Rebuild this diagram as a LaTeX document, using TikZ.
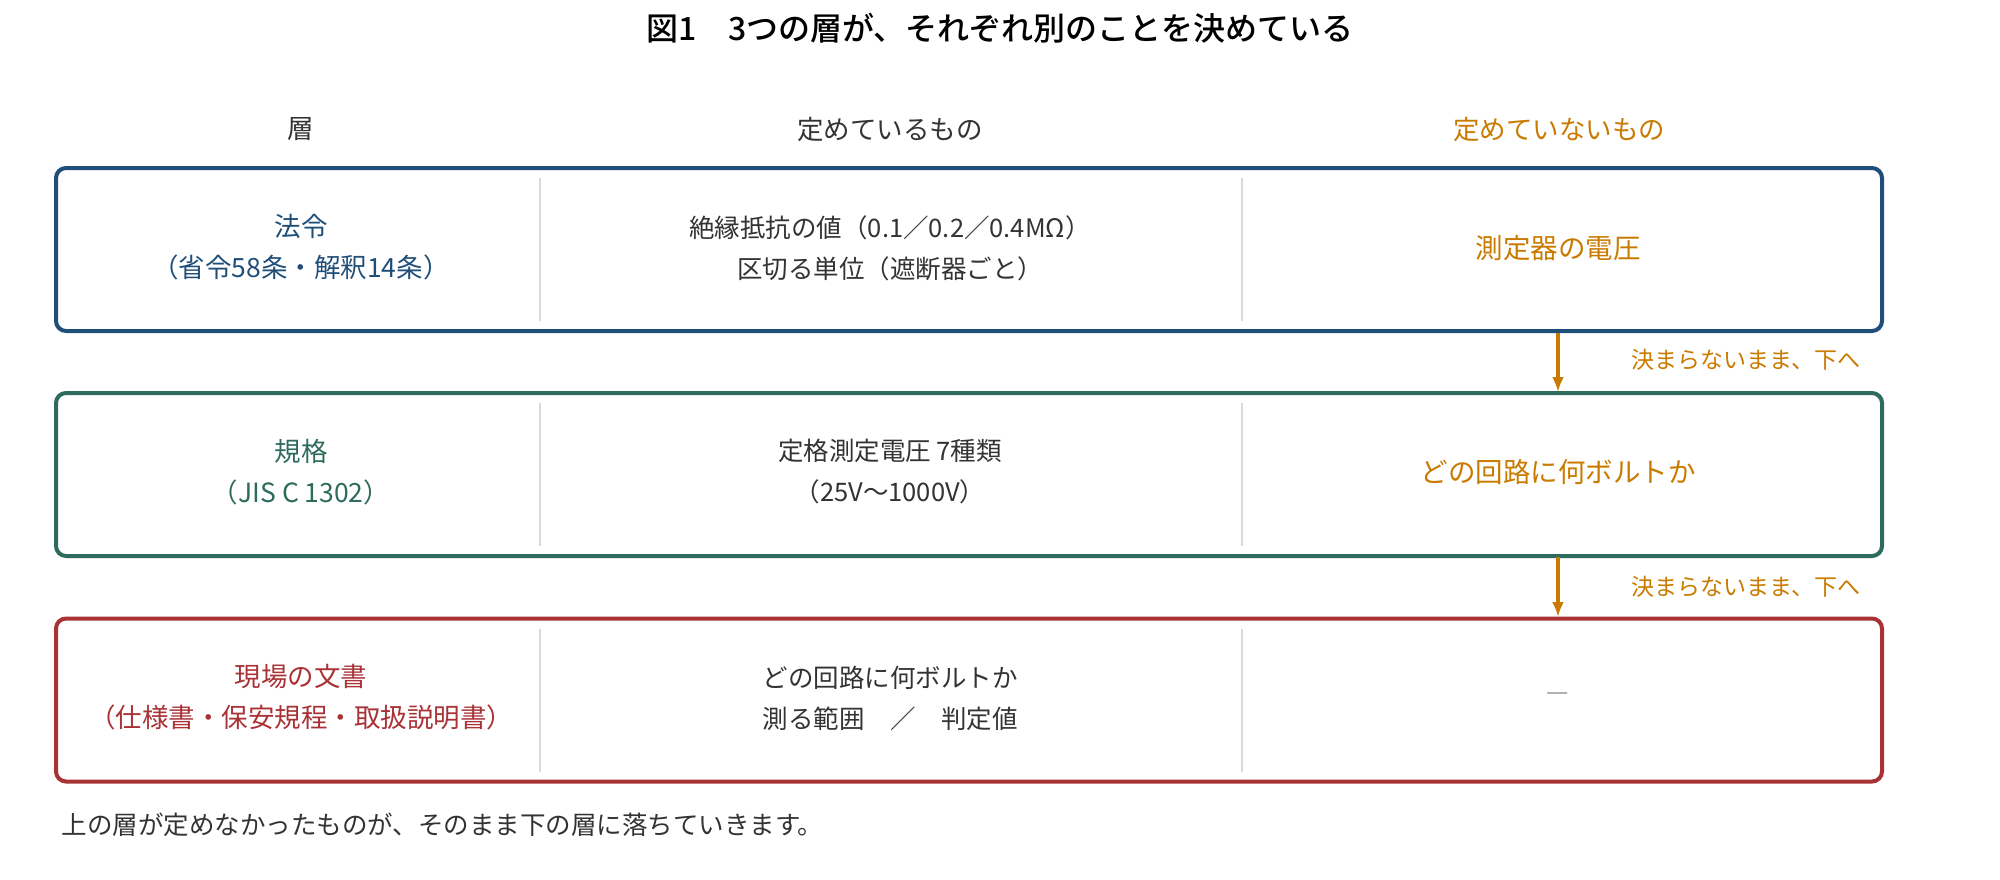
\documentclass[tikz,border=0pt]{standalone}
\usepackage{fontspec}
\setmainfont{Noto Sans CJK JP}
\newfontfamily\titlefont{Noto Sans CJK JP Medium}
\usepackage{tikz}
\usetikzlibrary{arrows.meta}

\definecolor{lawblue}{HTML}{1F4E79}
\definecolor{stdgreen}{HTML}{2E6B5C}
\definecolor{sitered}{HTML}{A83236}
\definecolor{openorange}{HTML}{C97A00}
\definecolor{inkgray}{HTML}{333333}
\definecolor{rulegray}{HTML}{DADADA}
\definecolor{dashgray}{HTML}{999999}

\tikzset{
  layerbox/.style={rectangle, rounded corners=10pt, draw=#1, line width=4pt, minimum width=1826pt, minimum height=163pt, inner sep=0pt},
  bodytxt/.style={align=center, text=#1, font=\fontsize{25.5}{41}\selectfont},
  bodytxt/.default=inkgray,
  nametxt/.style={align=center, text=#1, font=\fontsize{26.5}{41}\selectfont},
  opentxt/.style={align=center, text=openorange, font=\fontsize{27.5}{41}\selectfont},
  headtxt/.style={text=#1, font=\fontsize{26.5}{30}\selectfont},
  headtxt/.default=inkgray,
  passlabel/.style={anchor=west, text=openorange, font=\fontsize{23}{28}\selectfont},
  divider/.style={draw=rulegray, line width=2pt},
  passdown/.style={draw=openorange, line width=3.5pt, -{Latex[length=15pt,width=12pt]}}
}

\begin{document}
\begin{tikzpicture}[x=1pt, y=-1pt]
    \useasboundingbox (0,0) rectangle (2000,879);
    % Title and column heads
    \node [font=\fontsize{32}{40}\titlefont] (title) at (1000,28) {図1　3つの層が、それぞれ別のことを決めている};
    \node [headtxt] (headlayer) at (301,129) {層};
    \node [headtxt] (headset) at (890,129) {定めているもの};
    \node [headtxt=openorange] (headopen) at (1559,129) {定めていないもの};
    % Place layers
    \node [layerbox=lawblue] (law) at (969,249.5) {};
    \node [layerbox=stdgreen] (std) at (969,474.5) {};
    \node [layerbox=sitered] (site) at (969,700) {};
    % Column dividers
    \path[divider] ([xshift=486pt,yshift=-12pt]law.north west) -- ([xshift=486pt,yshift=12pt]law.south west);
    \path[divider] ([xshift=1188pt,yshift=-12pt]law.north west) -- ([xshift=1188pt,yshift=12pt]law.south west);
    \path[divider] ([xshift=486pt,yshift=-12pt]std.north west) -- ([xshift=486pt,yshift=12pt]std.south west);
    \path[divider] ([xshift=1188pt,yshift=-12pt]std.north west) -- ([xshift=1188pt,yshift=12pt]std.south west);
    \path[divider] ([xshift=486pt,yshift=-12pt]site.north west) -- ([xshift=486pt,yshift=12pt]site.south west);
    \path[divider] ([xshift=1188pt,yshift=-12pt]site.north west) -- ([xshift=1188pt,yshift=12pt]site.south west);
    % Layer 1
    \node [nametxt=lawblue] (lawname) at (301,247) {法令\\（省令58条・解釈14条）};
    \node [bodytxt] (lawset) at (890,248) {絶縁抵抗の値（0.1／0.2／0.4MΩ）\\区切る単位（遮断器ごと）};
    \node [opentxt] (lawopen) at (1558,248) {測定器の電圧};
    % Layer 2
    \node [nametxt=stdgreen] (stdname) at (301,472) {規格\\（JIS C 1302）};
    \node [bodytxt] (stdset) at (890,471) {定格測定電圧 7種類\\（25V〜1000V）};
    \node [opentxt] (stdopen) at (1558,472) {どの回路に何ボルトか};
    % Layer 3
    \node [nametxt=sitered] (sitename) at (301,697) {現場の文書\\（仕様書・保安規程・取扱説明書）};
    \node [bodytxt] (siteset) at (890,698) {どの回路に何ボルトか\\測る範囲　／　判定値};
    \node [bodytxt=dashgray, font=\fontsize{25}{30}\selectfont] (siteopen) at (1558,697) {—};
    % Pass-down arrows
    \coordinate (lawout) at (1558,333);
    \coordinate (stdin) at (1558,392);
    \coordinate (stdout) at (1558,557);
    \coordinate (sitein) at (1558,617);
    \path[passdown] (lawout) -- (stdin);
    \path[passdown] (stdout) -- (sitein);
    \node [passlabel] (pass1) at (1628,360) {決まらないまま、下へ};
    \node [passlabel] (pass2) at (1628,587) {決まらないまま、下へ};
    % Note
    \node [bodytxt, anchor=west] (note) at (58,825) {上の層が定めなかったものが、そのまま下の層に落ちていきます。};
\end{tikzpicture}
\end{document}
